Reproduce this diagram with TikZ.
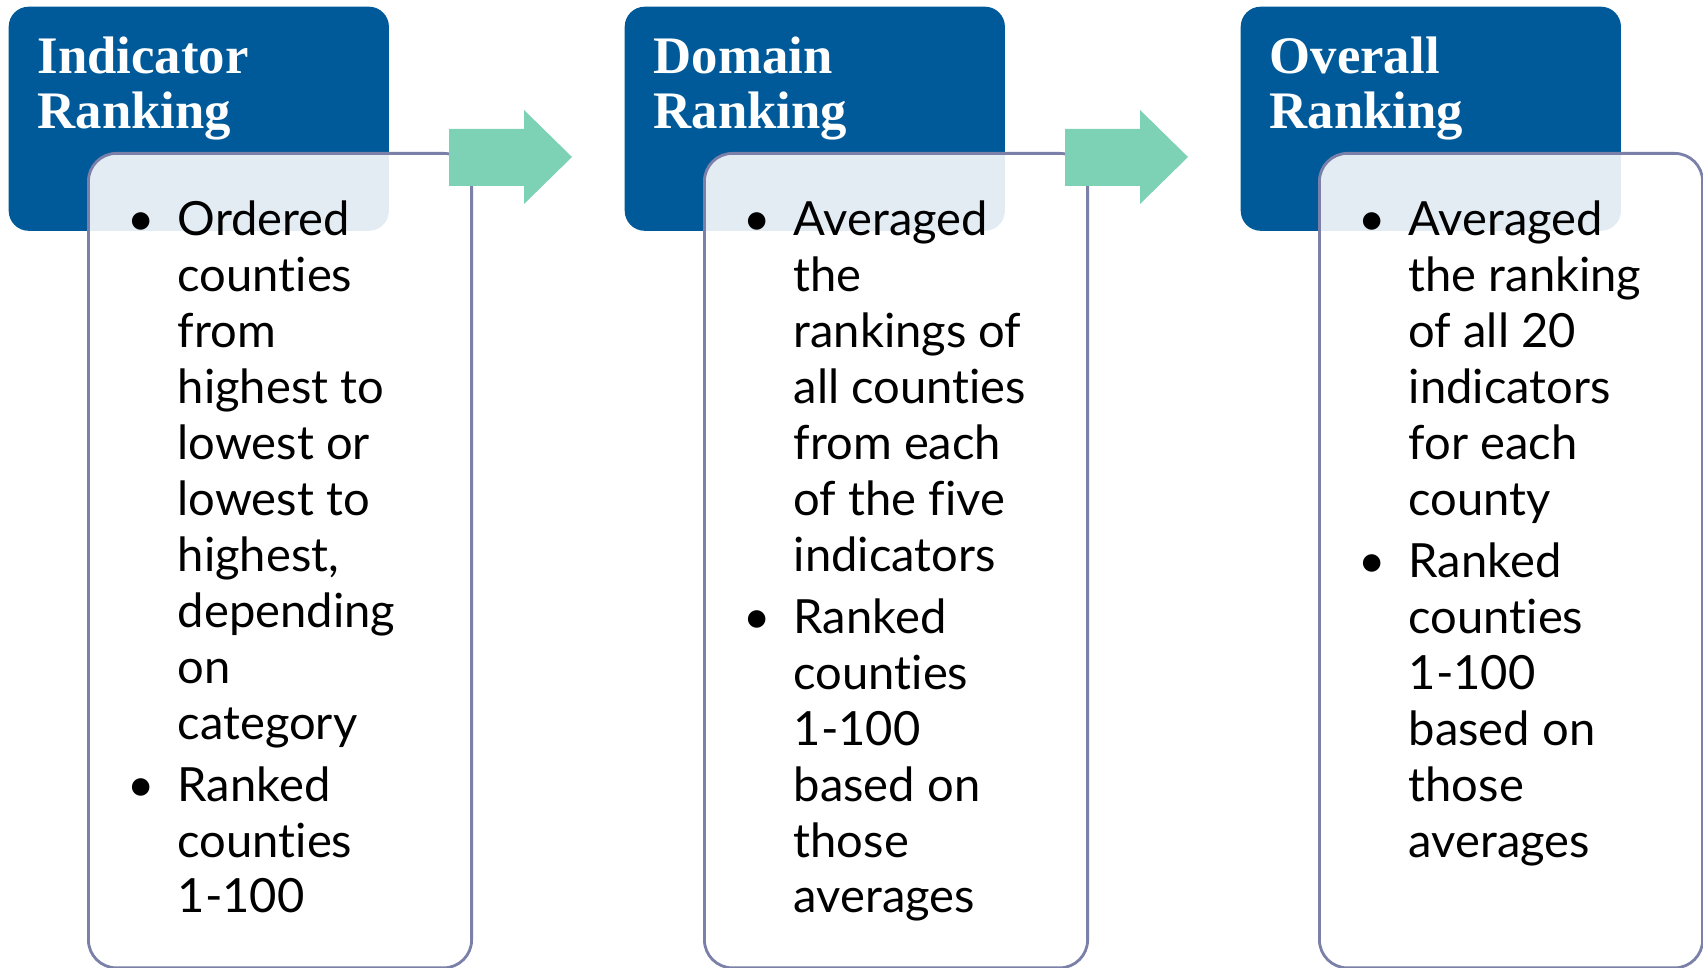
\documentclass[tikz,border=0pt]{standalone}
\usepackage{fontspec}
\setmainfont{Lato}[Ligatures=NoCommon]
\newfontfamily\headfont{Liberation Serif}
\usetikzlibrary{positioning}

\definecolor{headblue}{RGB}{0,90,154}
\definecolor{cardline}{RGB}{122,128,168}
\definecolor{mint}{RGB}{125,209,181}

\newcommand{\bul}{\makebox[0.5cm][l]{\textbullet}}

\begin{document}
\begin{tikzpicture}[
		x=0.01cm, y=-0.01cm,
		head/.style={rectangle,rounded corners=0.2cm,fill=headblue,anchor=north west,
			minimum width=3.8cm,minimum height=2.24cm,inner sep=0pt},
		headtext/.style={anchor=base west,inner sep=0pt,text=white,
			font=\headfont\bfseries\fontsize{15pt}{15.4pt}\selectfont},
		card/.style={rectangle,rounded corners=0.28cm,draw=cardline,line width=0.8pt,
			fill=white,fill opacity=0.89,anchor=north west,
			minimum width=3.83cm,minimum height=8.14cm,inner sep=0pt},
		bodytext/.style={anchor=base west,inner sep=0pt,
			font=\fontsize{13.4pt}{15.9pt}\selectfont},
		flow/.style={fill=mint}]

	\useasboundingbox (0,0) rectangle (1703,968);

	% headers
	\node[head] (headA) at (8,6) {};
	\node[head] (headB) at (624,6) {};
	\node[head] (headC) at (1240,6) {};
	\node[headtext] (titleA) at (37,74) {\begin{tabular}[t]{@{}l@{}}Indicator\\Ranking\end{tabular}};
	\node[headtext] (titleB) at (653,74) {\begin{tabular}[t]{@{}l@{}}Domain\\Ranking\end{tabular}};
	\node[headtext] (titleC) at (1269,74) {\begin{tabular}[t]{@{}l@{}}Overall\\Ranking\end{tabular}};

	% cards
	\node[card] (cardA) at (87,152) {};
	\node[card] (cardB) at (703,152) {};
	\node[card] (cardC) at (1318,152) {};

	\node[bodytext] (textA) at (127,236) {\begin{tabular}[t]{@{}l@{}l@{}}
		\bul & Ordered\\ & counties\\ & from\\ & highest to\\ & lowest or\\
		& lowest to\\ & highest,\\ & depending\\ & on\\ & category\\[1.7pt]
		\bul & Ranked\\ & counties\\ & 1-100
	\end{tabular}};
	\node[bodytext] (textB) at (743,236) {\begin{tabular}[t]{@{}l@{}l@{}}
		\bul & Averaged\\ & the\\ & rankings of\\ & all counties\\ & from each\\
		& of the five\\ & indicators\\[1.7pt]
		\bul & Ranked\\ & counties\\ & 1-100\\ & based on\\ & those\\ & averages
	\end{tabular}};
	\node[bodytext] (textC) at (1358,236) {\begin{tabular}[t]{@{}l@{}l@{}}
		\bul & Averaged\\ & the ranking\\ & of all 20\\ & indicators\\ & for each\\
		& county\\[1.7pt]
		\bul & Ranked\\ & counties\\ & 1-100\\ & based on\\ & those\\ & averages
	\end{tabular}};

	% block arrows
	\fill[flow] (449,129) -- (524,129) -- (524,110) -- (572,157) -- (524,204)
		-- (524,186) -- (449,186) -- cycle;
	\fill[flow] (1065,129) -- (1140,129) -- (1140,110) -- (1188,157) -- (1140,204)
		-- (1140,186) -- (1065,186) -- cycle;
\end{tikzpicture}
\end{document}
